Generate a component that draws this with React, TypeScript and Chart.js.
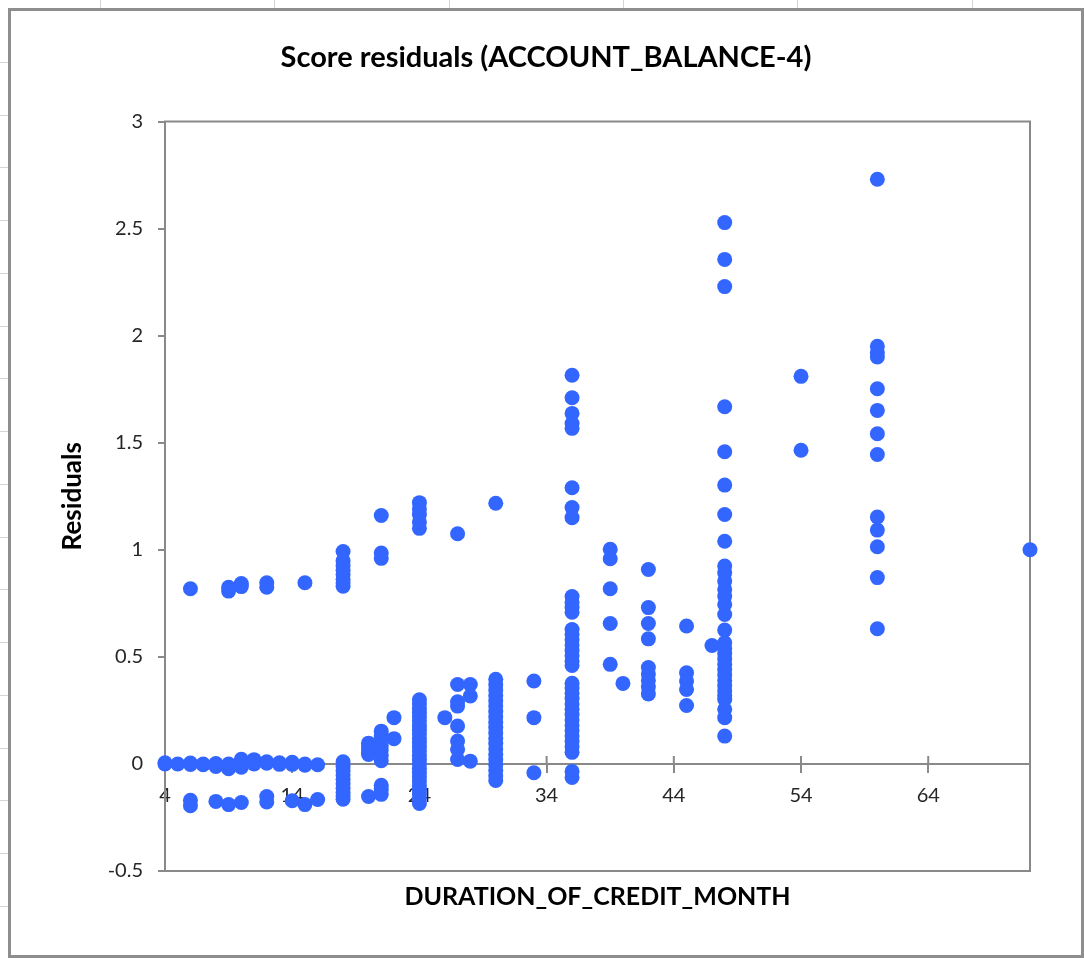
import { useEffect, useRef } from "react";
import { Chart, registerables } from "chart.js";

Chart.register(...registerables);

// Labels
const CHART_TITLE = "Score residuals (ACCOUNT_BALANCE-4)";
const X_TITLE = "DURATION_OF_CREDIT_MONTH";
const Y_TITLE = "Residuals";

// Axis ticks
const X_TICKS = [4, 14, 24, 34, 44, 54, 64];
const Y_TICKS = [-0.5, 0, 0.5, 1, 1.5, 2, 2.5, 3];
const X_MIN = 4;
const X_MAX = 72;
const Y_MIN = -0.5;
const Y_MAX = 3;

// Credit duration (months) and the residuals observed at each duration
const DURATIONS = [4, 5, 6, 7, 8, 9, 10, 11, 12, 13, 14, 15, 16, 18, 20, 21, 22, 24, 26, 27, 28, 30, 33, 36, 39, 40, 42, 45, 47, 48, 54, 60, 72];

const RESIDUALS: number[][] = [
  [0.0, 0.005],
  [0.0],
  [0.818, 0.004, -0.003, -0.17, -0.195],
  [0.0, -0.004],
  [0.002, -0.012, -0.175],
  [0.825, 0.807, 0.0, -0.012, -0.022, -0.19],
  [0.842, 0.828, 0.022, 0.012, -0.015, -0.18],
  [0.02, 0.012, 0.0],
  [0.846, 0.825, 0.01, 0.003, -0.152, -0.178],
  [0.005, -0.002],
  [0.008, -0.002, -0.172],
  [0.846, 0.0, -0.006, -0.19],
  [-0.004, -0.166],
  [0.992, 0.948, 0.925, 0.905, 0.885, 0.862, 0.845, 0.83, 0.01, -0.012, -0.032, -0.052, -0.072, -0.093, -0.113, -0.133, -0.15, -0.165],
  [0.097, 0.083, 0.068, 0.055, 0.044, -0.152],
  [1.16, 0.985, 0.96, 0.153, 0.13, 0.108, 0.085, 0.065, 0.04, 0.015, -0.1, -0.12, -0.142],
  [0.216, 0.118],
  [1.22, 1.19, 1.165, 1.13, 1.1, 0.3, 0.28, 0.26, 0.24, 0.22, 0.2, 0.18, 0.16, 0.14, 0.12, 0.1, 0.08, 0.06, 0.04, 0.02, 0.0, -0.02, -0.04, -0.06, -0.08, -0.1, -0.12, -0.14, -0.16, -0.185],
  [0.216],
  [1.075, 0.371, 0.29, 0.27, 0.177, 0.107, 0.068, 0.021],
  [0.371, 0.317, 0.013],
  [1.217, 0.395, 0.37, 0.345, 0.32, 0.295, 0.27, 0.245, 0.22, 0.195, 0.17, 0.145, 0.12, 0.095, 0.07, 0.045, 0.02, -0.005, -0.03, -0.055, -0.077],
  [0.387, 0.216, -0.041],
  [1.815, 1.71, 1.637, 1.59, 1.567, 1.29, 1.197, 1.15, 0.782, 0.755, 0.73, 0.708, 0.628, 0.605, 0.58, 0.555, 0.53, 0.505, 0.48, 0.46, 0.377, 0.355, 0.33, 0.305, 0.28, 0.255, 0.23, 0.205, 0.18, 0.155, 0.13, 0.105, 0.08, 0.054, -0.035, -0.063],
  [1.002, 0.958, 0.818, 0.656, 0.465],
  [0.376],
  [0.908, 0.73, 0.656, 0.584, 0.45, 0.42, 0.39, 0.36, 0.327],
  [0.644, 0.426, 0.387, 0.348, 0.273],
  [0.553],
  [2.528, 2.356, 2.229, 1.668, 1.458, 1.302, 1.165, 1.04, 0.924, 0.893, 0.854, 0.815, 0.784, 0.745, 0.698, 0.625, 0.566, 0.54, 0.515, 0.49, 0.465, 0.44, 0.415, 0.39, 0.365, 0.34, 0.32, 0.301, 0.255, 0.216, 0.13],
  [1.81, 1.465],
  [2.73, 1.95, 1.92, 1.9, 1.752, 1.651, 1.542, 1.445, 1.153, 1.092, 1.014, 0.87, 0.631],
  [1.0],
];

const FONT = "Lato, 'Open Sans', sans-serif";
const AXIS_GREY = "#898989";
const TICK_TEXT = "#262626";
const MARKER_BLUE = "#3366ff";

// Rectangle around the plotting area, drawn under the markers
const plotFrame = {
  id: "plotFrame",
  beforeDatasetsDraw(chart: any) {
    const { ctx, chartArea } = chart;
    ctx.save();
    ctx.strokeStyle = AXIS_GREY;
    ctx.lineWidth = 2;
    ctx.strokeRect(chartArea.left, chartArea.top, chartArea.right - chartArea.left, chartArea.bottom - chartArea.top);
    ctx.restore();
  },
};

// Upper half of the x tick marks, so they cross the zero line
const crossTicks = {
  id: "crossTicks",
  beforeDatasetsDraw(chart: any) {
    const { ctx } = chart;
    const xs = chart.scales.x;
    const y0 = chart.scales.y.getPixelForValue(0);
    ctx.save();
    ctx.strokeStyle = AXIS_GREY;
    ctx.lineWidth = 2;
    ctx.beginPath();
    xs.ticks.forEach((_t: any, i: number) => {
      const px = xs.getPixelForTick(i);
      ctx.moveTo(px, y0 - 8);
      ctx.lineTo(px, y0);
    });
    ctx.stroke();
    ctx.restore();
  },
};

function ResidualChart() {
  const canvasRef = useRef<HTMLCanvasElement | null>(null);

  useEffect(() => {
    if (!canvasRef.current) return;
    const points: { x: number; y: number }[] = [];
    DURATIONS.forEach((d, i) => {
      RESIDUALS[i].forEach((r) => points.push({ x: d, y: r }));
    });

    const chart = new Chart(canvasRef.current, {
      type: "scatter",
      data: {
        datasets: [
          {
            label: "Residuals",
            data: points,
            xAxisID: "x",
            yAxisID: "y",
            backgroundColor: MARKER_BLUE,
            borderWidth: 0,
            pointRadius: 7.5,
            pointHoverRadius: 7.5,
            clip: false as any,
          },
        ],
      },
      options: {
        animation: false,
        responsive: true,
        maintainAspectRatio: false,
        layout: { padding: 0 },
        plugins: {
          legend: { display: false },
          tooltip: { enabled: false },
          title: {
            display: true,
            text: CHART_TITLE,
            color: "#000",
            font: { family: FONT, size: 29, weight: "bold" },
            padding: { top: 29.6, bottom: 46.1 },
          },
        },
        scales: {
          x: {
            type: "linear",
            position: { y: 0 } as any,
            min: X_MIN,
            max: X_MAX,
            afterBuildTicks: (s: any) => {
              s.ticks = X_TICKS.map((v) => ({ value: v }));
            },
            ticks: {
              color: TICK_TEXT,
              font: { family: FONT, size: 20 },
              padding: 12,
              maxRotation: 0,
              autoSkip: false,
            },
            grid: { drawOnChartArea: false, drawTicks: true, tickLength: 8, color: AXIS_GREY, lineWidth: 2 },
            border: { display: true, color: AXIS_GREY, width: 2 },
          },
          xTitle: {
            type: "linear",
            axis: "x",
            position: "bottom",
            display: true,
            min: X_MIN,
            max: X_MAX,
            ticks: { display: false },
            grid: { display: false, drawTicks: false },
            border: { display: false },
            title: {
              display: true,
              text: X_TITLE,
              color: "#000",
              font: { family: FONT, size: 25, weight: "bold" },
              padding: { top: 11, bottom: 43 },
            },
          },
          y: {
            type: "linear",
            position: "left",
            min: Y_MIN,
            max: Y_MAX,
            afterBuildTicks: (s: any) => {
              s.ticks = Y_TICKS.map((v) => ({ value: v }));
            },
            afterFit: (s: any) => {
              s.width = 154;
            },
            ticks: {
              color: TICK_TEXT,
              font: { family: FONT, size: 20 },
              padding: 15,
              callback: (v: any) => String(v),
            },
            grid: { drawOnChartArea: false, drawTicks: true, tickLength: 7, color: AXIS_GREY, lineWidth: 2 },
            border: { display: true, color: AXIS_GREY, width: 2 },
            title: {
              display: true,
              text: Y_TITLE,
              color: "#000",
              font: { family: FONT, size: 26, weight: "bold" },
              padding: { top: 46, bottom: 0 },
            },
          },
          // empty right-hand margin of the plot
          yGap: {
            type: "linear",
            axis: "y",
            position: "right",
            display: true,
            min: Y_MIN,
            max: Y_MAX,
            afterFit: (s: any) => {
              s.width = 51;
            },
            ticks: { display: false },
            grid: { display: false, drawTicks: false },
            border: { display: false },
          },
        },
      } as any,
      plugins: [plotFrame, crossTicks],
    });
    return () => chart.destroy();
  }, []);

  return (
    <div style={{ position: "relative", width: 1070, height: 944 }}>
      <canvas ref={canvasRef} />
    </div>
  );
}

// Spreadsheet cell lines peeking out around the chart object
const COLUMN_LINES = [100, 274, 449, 623, 797, 972];
const ROW_LINES = [62, 115, 167, 220, 273, 326, 378, 431, 484, 537, 589, 642, 695, 748, 800, 853, 906];

export default function App() {
  return (
    <div style={{ position: "absolute", left: 0, top: 0, width: 1084, height: 958, background: "#fff", overflow: "hidden" }}>
      {COLUMN_LINES.map((x) => (
        <div key={"c" + x} style={{ position: "absolute", left: x, top: 0, width: 1, height: 8, background: "#d4d4d4" }} />
      ))}
      {ROW_LINES.map((y) => (
        <div key={"r" + y} style={{ position: "absolute", left: 0, top: y, width: 8, height: 1, background: "#d4d4d4" }} />
      ))}
      <div
        style={{
          position: "absolute",
          left: 8,
          top: 8,
          width: 1076,
          height: 950,
          border: "3px solid #8e8e8e",
          boxSizing: "border-box",
          background: "#fff",
        }}
      >
        <ResidualChart />
      </div>
    </div>
  );
}
